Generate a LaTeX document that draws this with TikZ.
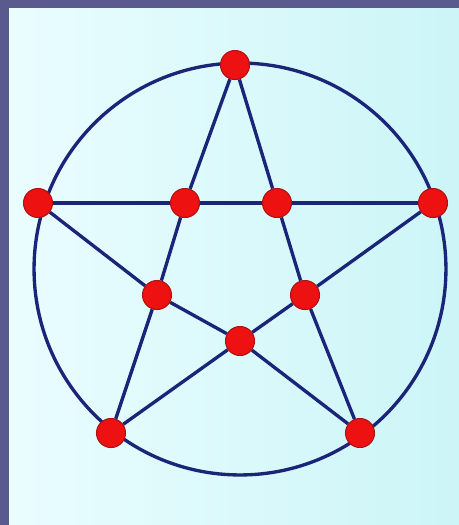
\documentclass[tikz,border=0pt]{standalone}
\usepackage{xcolor}
\usepackage{tikz}
\usetikzlibrary{
    positioning,
    backgrounds
}
\definecolor{framepurple}{HTML}{5A5A8E}
\definecolor{panelleft}{HTML}{EAFDFF}
\definecolor{panelright}{HTML}{CCF5F7}
\definecolor{edgenavy}{HTML}{1A2478}
\definecolor{vertexred}{HTML}{EE1111}
\definecolor{vertexrim}{HTML}{B01010}

\begin{document}
\begin{tikzpicture}[
    x=0.02cm, y=-0.02cm,
    vertex/.style={circle, draw=vertexrim, line width=0.6pt, fill=vertexred, minimum size=0.58cm, inner sep=0pt},
    edge/.style={draw=edgenavy, line width=1.9pt},
]
    \useasboundingbox (0, 0) rectangle (459, 525);

    % Outer points
    \node[vertex] (top) at (235, 65) {};
    \node[vertex] (left) at (38, 203) {};
    \node[vertex] (right) at (433, 203) {};
    \node[vertex] (botleft) at (111, 433) {};
    \node[vertex] (botright) at (360, 433) {};

    % Inner points
    \node[vertex] (intopleft) at (185, 203) {};
    \node[vertex] (intopright) at (277, 203) {};
    \node[vertex] (inmidleft) at (157, 295) {};
    \node[vertex] (inmidright) at (305, 295) {};
    \node[vertex] (inbot) at (240, 341) {};

    \begin{scope}[on background layer]
        % Frame and panel
        \fill[framepurple] (0, 0) rectangle (459, 525);
        \shade[left color=panelleft, right color=panelright] (9, 8) rectangle (459, 525);

        % Circle
        \coordinate (centre) at (240, 269);
        \draw[edge] (centre) circle[radius=4.12cm];

        % Star
        \draw[edge] (top) -- (intopleft) -- (inmidleft) -- (botleft);
        \draw[edge] (top) -- (intopright) -- (inmidright) -- (botright);
        \draw[edge] (left) -- (intopleft) -- (intopright) -- (right);
        \draw[edge] (left) -- (inmidleft) -- (inbot) -- (botright);
        \draw[edge] (right) -- (inmidright) -- (inbot) -- (botleft);
    \end{scope}

\end{tikzpicture}
\end{document}
